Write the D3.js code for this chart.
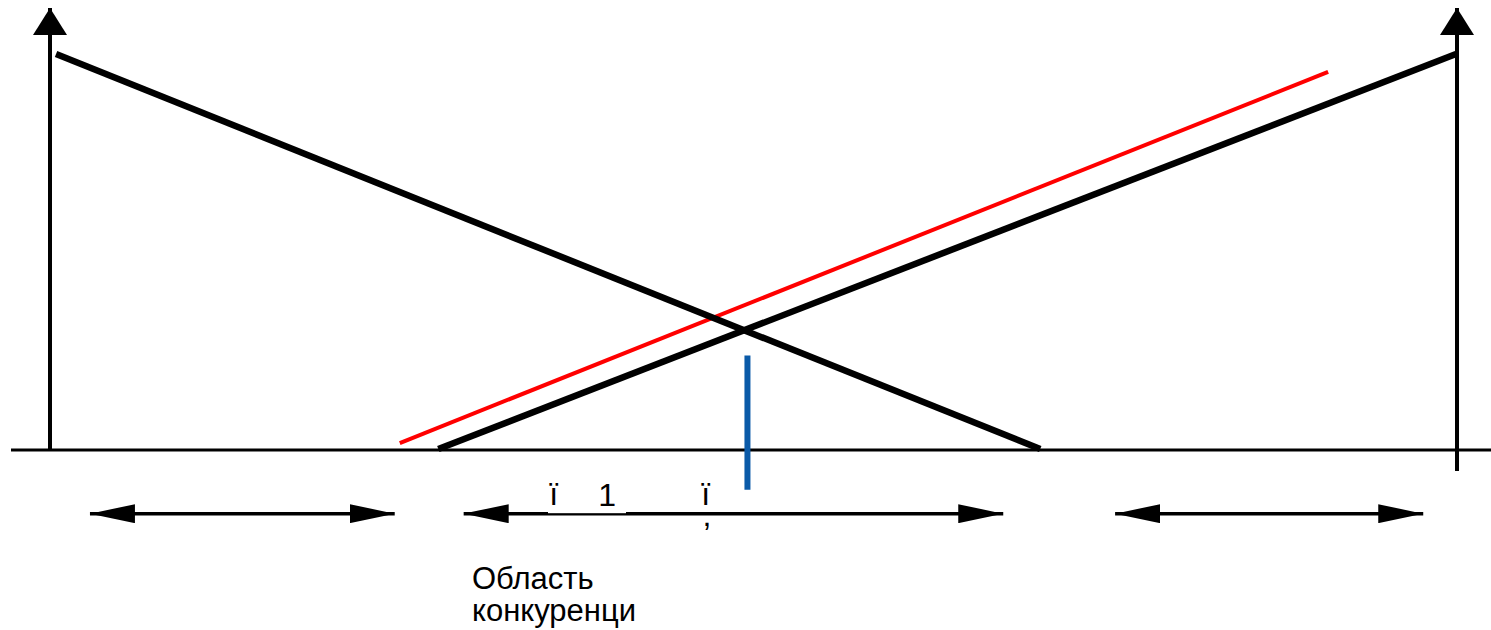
<!DOCTYPE html>
<html>
<head>
<meta charset="utf-8">
<script src="https://cdn.jsdelivr.net/npm/d3@7"></script>
<style>
  html, body { margin: 0; padding: 0; background: #fff; }
  svg { display: block; font-family: "Liberation Sans", Arial, sans-serif; }
</style>
</head>
<body>
<svg id="chart" width="1491" height="630"></svg>
<script>
// Schematic in abstract units: x 0..100 between the two vertical axes, y 0..100 above baseline
const demandLine = [[0.43, 99.5], [70.38, 0.25]];    // falling black line
const supplyLine = [[27.6, 0.25], [99.93, 99.5]];    // rising black line
const shiftedLine = [[24.86, 1.75], [90.84, 95]];    // red line
const priceMark = [[49.57, 23.75], [49.57, -10]];    // blue vertical
const ranges = [[2.84, 24.5], [29.4, 67.75], [75.7, 97.6]];
const rangeY = -16;
const labels = [
    { x: 35.8, y: -13.7, text: 'ï' },
    { x: 39.6, y: -14.0, text: '1' },
    { x: 46.6, y: -13.7, text: 'ï' },
    { x: 46.7, y: -19.2, text: ',' }
];
const caption = ['Область', 'конкуренци'];

const svg = d3.select('#chart');
const x = d3.scaleLinear().domain([0, 100]).range([50, 1457]);
const y = d3.scaleLinear().domain([0, 100]).range([450, 52]);

const defs = svg.append('defs');
defs.append('marker')
    .attr('id', 'axis-head')
    .attr('viewBox', '0 0 34 27')
    .attr('markerUnits', 'userSpaceOnUse')
    .attr('markerWidth', 34).attr('markerHeight', 27)
    .attr('refX', 17).attr('refY', 0)
    .attr('orient', '0')
    .append('path').attr('d', 'M0,27L17,0L34,27Z').attr('fill', '#000');
defs.append('marker')
    .attr('id', 'range-head')
    .attr('viewBox', '0 0 45 19')
    .attr('markerUnits', 'userSpaceOnUse')
    .attr('markerWidth', 45).attr('markerHeight', 19)
    .attr('refX', 45).attr('refY', 9.5)
    .attr('orient', 'auto-start-reverse')
    .append('path').attr('d', 'M0,0L45,9.5L0,19Z').attr('fill', '#000');

const line = d3.line().x((d) => x(d[0])).y((d) => y(d[1]));

// baseline
svg.append('line')
    .attr('x1', 11).attr('x2', 1491)
    .attr('y1', y(0)).attr('y2', y(0))
    .attr('stroke', '#000').attr('stroke-width', 3);

// vertical axes with arrowheads
svg.append('line')
    .attr('x1', x(0)).attr('x2', x(0))
    .attr('y1', y(0)).attr('y2', 8)
    .attr('stroke', '#000').attr('stroke-width', 4)
    .attr('marker-end', 'url(#axis-head)');
svg.append('line')
    .attr('x1', x(100)).attr('x2', x(100))
    .attr('y1', y(-5.3)).attr('y2', 8)
    .attr('stroke', '#000').attr('stroke-width', 4)
    .attr('marker-end', 'url(#axis-head)');

svg.append('path').datum(shiftedLine)
    .attr('d', line).attr('fill', 'none')
    .attr('stroke', '#f00').attr('stroke-width', 4);
svg.append('path').datum(demandLine)
    .attr('d', line).attr('fill', 'none')
    .attr('stroke', '#000').attr('stroke-width', 6.5);
svg.append('path').datum(supplyLine)
    .attr('d', line).attr('fill', 'none')
    .attr('stroke', '#000').attr('stroke-width', 6.5);
svg.append('path').datum(priceMark)
    .attr('d', line).attr('fill', 'none')
    .attr('stroke', '#0a5aa8').attr('stroke-width', 6);

// double-headed range arrows (marker tips sit on the line ends)
svg.append('g').selectAll('line')
    .data(ranges)
    .join('line')
    .attr('x1', (d) => x(d[0])).attr('x2', (d) => x(d[1]))
    .attr('y1', y(rangeY)).attr('y2', y(rangeY))
    .attr('stroke', '#000').attr('stroke-width', 3.5)
    .attr('marker-start', 'url(#range-head)')
    .attr('marker-end', 'url(#range-head)');

// white gap under the "ï 1" label
svg.append('rect')
    .attr('x', 548).attr('width', 78)
    .attr('y', y(rangeY) - 3).attr('height', 2.5)
    .attr('fill', '#fff');

svg.append('g').selectAll('text')
    .data(labels)
    .join('text')
    .attr('x', (d) => x(d.x)).attr('y', (d) => y(d.y))
    .attr('font-size', 32).attr('text-anchor', 'middle')
    .text((d) => d.text);

svg.append('text')
    .attr('x', 472).attr('y', 589)
    .attr('font-size', 31)
    .selectAll('tspan')
    .data(caption)
    .join('tspan')
    .attr('x', 472).attr('dy', (d, i) => (i ? 32 : 0))
    .text((d) => d);
</script>
</body>
</html>
